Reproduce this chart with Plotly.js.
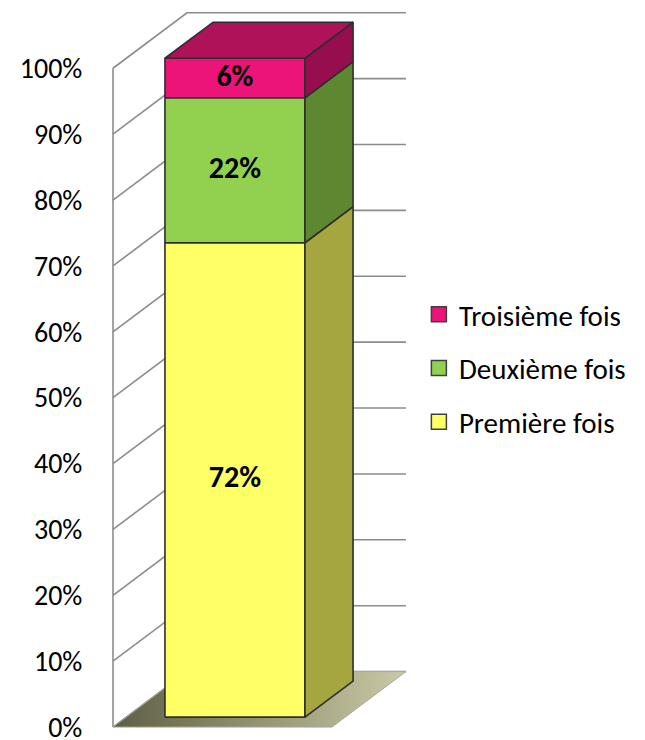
<!DOCTYPE html>
<html><head><meta charset="utf-8">
<script src="https://cdn.plot.ly/plotly-3.0.1.min.js"></script>
<style>html,body{margin:0;padding:0;background:#fff}</style>
</head><body><div id="chart" style="width:645px;height:740px"></div>
<script>
// ---- data ----
const categories = ['Première fois', 'Deuxième fois', 'Troisième fois'];
const values = [72, 22, 6];
const valueLabels = ['72%', '22%', '6%'];
const tickValues = [0, 10, 20, 30, 40, 50, 60, 70, 80, 90, 100];
const tickLabels = ['0%', '10%', '20%', '30%', '40%', '50%', '60%', '70%', '80%', '90%', '100%'];

// ---- style ----
const frontColors = ['#FFFF66', '#92D050', '#EC1479'];
const sideColors = ['#A6A640', '#5E8732', '#970E4E'];
const topColors = ['#C9C94F', '#72A33E', '#B0125A'];
const FONT = 'Calibri, Carlito, Lato, sans-serif';

// ---- pseudo-3D geometry (axis units) ----
const PX_X = 140;                 // px per x unit
const PX_Y = 730 / 110.8;         // px per y unit
const DEPTH_X = 74 / PX_X;
const DEPTH_Y = 55.5 / PX_Y;
const BAR_FRONT = 0.18, BAR_BACK = 0.83;
const BAR_LEFT = 0.276, BAR_WIDTH = 1.0;
const FLOOR_WIDTH = 1.564;

function proj(x, y, d) { return [x + d * DEPTH_X, y + d * DEPTH_Y]; }
function poly(pts, fill, line, extra) {
  const xs = [], ys = [];
  pts.forEach(p => { const q = proj(p[0], p[1], p[2]); xs.push(q[0]); ys.push(q[1]); });
  xs.push(xs[0]); ys.push(ys[0]);
  return Object.assign({
    type: 'scatter', mode: 'lines', x: xs, y: ys, fill: 'toself', fillcolor: fill,
    line: line, showlegend: false, hoverinfo: 'skip'
  }, extra || {});
}

const traces = [];

// back / side wall gridlines
const gx = [], gy = [];
tickValues.forEach(v => {
  [[0, v, 0], [0, v, 1], [FLOOR_WIDTH, v, 1]].forEach(p => {
    const q = proj(p[0], p[1], p[2]); gx.push(q[0]); gy.push(q[1]);
  });
  gx.push(null); gy.push(null);
});
// front edge of the side wall
[[0, 0, 0], [0, 100, 0]].forEach(p => { const q = proj(p[0], p[1], p[2]); gx.push(q[0]); gy.push(q[1]); });
traces.push({type: 'scatter', mode: 'lines', x: gx, y: gy, line: {color: '#8C8C8C', width: 1.6},
  showlegend: false, hoverinfo: 'skip'});

// floor
traces.push(poly([[0, 0, 0], [FLOOR_WIDTH, 0, 0], [FLOOR_WIDTH, 0, 1], [0, 0, 1]], '#9a9a78',
  {color: '#A8A8A0', width: 1},
  {fillgradient: {type: 'horizontal', colorscale: [[0, '#5E5E44'], [1, '#CACAA6']]}}));

// stacked bar
const edge = {color: '#2E2E2E', width: 1.6};
let base = 0;
const L = BAR_LEFT, R = BAR_LEFT + BAR_WIDTH;
values.forEach((v, i) => {
  const b = base, t = base + v;
  traces.push(poly([[L, b, BAR_FRONT], [R, b, BAR_FRONT], [R, t, BAR_FRONT], [L, t, BAR_FRONT]], frontColors[i], edge));
  traces.push(poly([[R, b, BAR_FRONT], [R, b, BAR_BACK], [R, t, BAR_BACK], [R, t, BAR_FRONT]], sideColors[i], edge));
  if (i === values.length - 1) {
    traces.push(poly([[L, t, BAR_FRONT], [R, t, BAR_FRONT], [R, t, BAR_BACK], [L, t, BAR_BACK]], topColors[i], edge));
  }
  base = t;
});

// value labels
const lx = [], ly = [];
base = 0;
values.forEach(v => {
  const q = proj(L + BAR_WIDTH / 2, base + v / 2, BAR_FRONT);
  lx.push(q[0]); ly.push(q[1]); base += v;
});
traces.push({type: 'scatter', mode: 'text', x: lx, y: ly, text: valueLabels,
  textfont: {family: FONT, size: 30, color: '#000', weight: 'bold'}, showlegend: false, hoverinfo: 'skip'});

// legend entries (top to bottom: Troisième, Deuxième, Première)
for (let i = categories.length - 1; i >= 0; i--) {
  traces.push({type: 'scatter', mode: 'markers', x: [null], y: [null], name: categories[i],
    legendgroup: 'g' + i,
    marker: {symbol: 'square', size: 15, color: frontColors[i], line: {color: '#404040', width: 1.5}},
    hoverinfo: 'skip'});
}

const layout = {
  width: 645, height: 740,
  margin: {l: 110, r: 238, t: 5, b: 5},
  paper_bgcolor: '#fff', plot_bgcolor: 'rgba(0,0,0,0)',
  showlegend: true,
  legend: {x: 1.04, xanchor: 'left', y: 0.611, yanchor: 'top', traceorder: 'grouped',
    tracegroupgap: 13, font: {family: FONT, size: 29, color: '#000'}, bgcolor: 'rgba(0,0,0,0)'},
  xaxis: {range: [-3 / PX_X, 294 / PX_X], visible: false, fixedrange: true},
  yaxis: {range: [-1.2, 109.6], tickvals: tickValues, ticktext: tickLabels,
    showgrid: false, zeroline: false, showline: false,
    ticks: 'outside', ticklen: 21, tickcolor: 'rgba(0,0,0,0)', ticklabeloverflow: 'allow',
    tickfont: {family: FONT, size: 28, color: '#000'}, fixedrange: true}
};

Plotly.newPlot('chart', traces, layout, {displayModeBar: false, staticPlot: true});
</script>
</body></html>
